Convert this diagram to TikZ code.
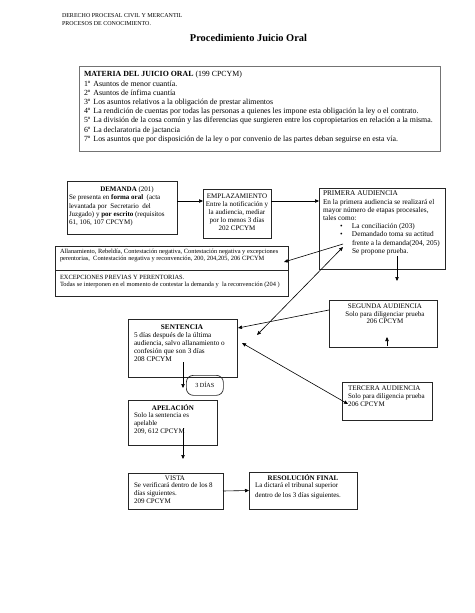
\documentclass[tikz,border=0pt]{standalone}
\usepackage{fontspec}
\setmainfont{Liberation Serif}
\usetikzlibrary{arrows.meta}
\newcommand{\fsz}[2]{\fontsize{#1}{#2}\selectfont}
\newcommand{\ordn}[1]{\makebox[9.5pt][l]{#1}}
\begin{document}
\begin{tikzpicture}[x=1pt,y=-1pt,
  box/.style={draw=black!85, line width=0.7pt, inner sep=0pt, outer sep=0pt, anchor=north west},
  txt/.style={inner sep=0pt, outer sep=0pt, anchor=north west, align=left},
  ctxt/.style={inner sep=0pt, outer sep=0pt, anchor=north, align=center},
  hd/.style={inner sep=0pt, outer sep=0pt, anchor=base},
  arr/.style={-{Triangle[length=4pt,width=3.4pt]}, line width=0.6pt},
  darr/.style={{Triangle[length=4pt,width=3.4pt]}-{Triangle[length=4pt,width=3.4pt]}, line width=0.6pt},
  small/.style={font=\fsz{7}{8.2}}
]
\fill[white] (0,0) rectangle (474,613);
\useasboundingbox (0,0) rectangle (474,613);

% header
\node[txt, font=\fsz{6}{8}] (hdr) at (62,14) {DERECHO PROCESAL CIVIL Y MERCANTIL\\PROCESOS DE CONOCIMIENTO.};
\node[hd, font=\fsz{10.4}{12}\bfseries] (title) at (248.5,41) {Procedimiento Juicio Oral};

% materia
\node[box, draw=black!55, line width=0.9pt, minimum width=361pt, minimum height=85pt] (mat) at (79,66) {};
\node[txt, font=\fsz{7.85}{9.2}] (matt) at (84,71.5) {\textbf{MATERIA DEL JUICIO ORAL} (199 CPCYM)\\
\ordn{1º}Asuntos de menor cuantía.\\
\ordn{2º}Asuntos de ínfima cuantía\\
\ordn{3º}Los asuntos relativos a la obligación de prestar alimentos\\
\ordn{4º}La rendición de cuentas por todas las personas a quienes les impone esta obligación la ley o el contrato.\\
\ordn{5º}La división de la cosa común y las diferencias que surgieren entre los copropietarios en relación a la misma.\\
\ordn{6º}La declaratoria de jactancia\\
\ordn{7º}Los asuntos que por disposición de la ley o por convenio de las partes deban seguirse en esta vía.};

% demanda
\node[box, minimum width=110pt, minimum height=53pt] (dem) at (67,181) {};
\node[hd, small] (demh) at (127,191.5) {\textbf{DEMANDA} (201)};
\node[txt, small] (demt) at (69,195) {Se presenta en \textbf{forma oral}\ \ (acta\\
levantada por\ \ Secretario\ \ del\\
Juzgado) y \textbf{por escrito} (requisitos\\
61, 106, 107 CPCYM)};

% emplazamiento
\node[box, minimum width=68pt, minimum height=49pt] (emp) at (203,189) {};
\node[ctxt, small] (empt) at (237,193.5) {EMPLAZAMIENTO\\Entre la notificación y\\la audiencia, mediar\\por lo menos 3 días\\202 CPCYM};

% primera audiencia
\node[box, minimum width=126pt, minimum height=81pt] (pri) at (319,188) {};
\node[txt, font=\fsz{7.3}{8.2}] (prit) at (323,191) {PRIMERA AUDIENCIA\\
En la primera audiencia se realizará el\\
mayor número de etapas procesales,\\
tales como:\\
\hspace*{17pt}\makebox[12pt][l]{•}La conciliación (203)\\
\hspace*{17pt}\makebox[12pt][l]{•}Demandado toma su actitud\\
\hspace*{29pt}frente a la demanda(204, 205)\\
\hspace*{29pt}Se propone prueba.};

% allanamiento / excepciones
\node[box, minimum width=233pt, minimum height=24pt] (all) at (55,246) {};
\node[box, minimum width=233pt, minimum height=26pt] (exc) at (55,270) {};
\node[txt, font=\fsz{6.4}{7}] (allt) at (60,249.5) {Allanamiento, Rebeldía, Contestación negativa, Contestación negativa y excepciones\\
perentorias,\ \ Contestación negativa y reconvención, 200, 204,205, 206 CPCYM};
\node[txt, font=\fsz{6.4}{7}] (exct) at (60,275) {EXCEPCIONES PREVIAS Y PERENTORIAS.\\
Todas se interponen en el momento de contestar la demanda y\ \ la reconvención (204 )};

% segunda audiencia
\node[box, minimum width=108pt, minimum height=47pt] (seg) at (329,300) {};
\node[ctxt, font=\fsz{7}{7.6}] (segt) at (385,304) {SEGUNDA AUDIENCIA\\Solo para diligenciar prueba\\206 CPCYM};

% tercera audiencia
\node[box, minimum width=90pt, minimum height=38pt] (ter) at (342,382) {};
\node[txt, font=\fsz{7}{7.8}] (tert) at (348,386) {TERCERA AUDIENCIA\\Solo para diligencia prueba\\206 CPCYM};

% sentencia
\node[box, minimum width=109pt, minimum height=58pt] (sen) at (128,319) {};
\node[hd, font=\fsz{7.2}{8.2}\bfseries] (senh) at (182,329) {SENTENCIA};
\node[txt, font=\fsz{7.2}{8.2}] (sent) at (134,332) {5 días después de la última\\
audiencia, salvo allanamiento o\\
confesión que son 3 días\\
208 CPCYM};

% 3 dias
\node[draw=black!85, line width=0.7pt, rounded corners=7pt, minimum width=37pt, minimum height=20pt, inner sep=0pt, anchor=north west, font=\fsz{6.2}{7}] (dias) at (186,375) {3 DÍAS};

% apelacion
\node[box, minimum width=89pt, minimum height=45pt] (ape) at (128,400) {};
\node[hd, small] (apeh) at (173,410) {\textbf{APELACIÓN}};
\node[txt, small] (apet) at (134,412.5) {Solo la sentencia es\\apelable\\209, 612 CPCYM};

% vista
\node[box, minimum width=95pt, minimum height=36pt] (vis) at (128,473) {};
\node[hd, small] (vish) at (175,480) {VISTA};
\node[txt, small] (vist) at (134,482.5) {Se verificará dentro de los 8\\días siguientes.\\209 CPCYM};

% resolucion final
\node[box, minimum width=108pt, minimum height=37pt] (res) at (249,472) {};
\node[hd, small] (resh) at (303,480) {\textbf{RESOLUCIÓN FINAL}};
\node[txt, font=\fsz{7}{10}] (rest) at (255,482.5) {La dictará el tribunal superior\\dentro de los 3 días siguientes.};

% connector points
\coordinate (pa) at (343,244);
\coordinate (pb) at (343,247);
\coordinate (al) at (284,262);
\coordinate (sx) at (257,335);
\coordinate (g1) at (329,310);
\coordinate (s1) at (238,328);
\coordinate (t1) at (348,404);
\coordinate (s2) at (242,343);
\coordinate (pd1) at (397,256);
\coordinate (pd2) at (397,281);
\coordinate (g2) at (387,346);
\coordinate (g3) at (387,337);
\coordinate (s3) at (183,362);
\coordinate (d1) at (183,388);
\coordinate (a1) at (183,428);
\coordinate (a2) at (183,459);

% connectors
\draw[arr] (dem.east |- 0,201) -- (emp.west |- 0,201);
\draw[arr] (emp.east |- 0,201) -- (pri.west |- 0,201);
\draw[arr] (pa) -- (al);
\draw[darr] (pb) -- (sx);
\draw[arr] (g1) -- (s1);
\draw[darr] (t1) -- (s2);
\draw[arr] (pd1) -- (pd2);
\draw[arr] (g2) -- (g3);
\draw[arr] (s3) -- (d1);
\draw[arr] (a1) -- (a2);
\draw[arr] (vis.east) -- (res.west);
\end{tikzpicture}
\end{document}
